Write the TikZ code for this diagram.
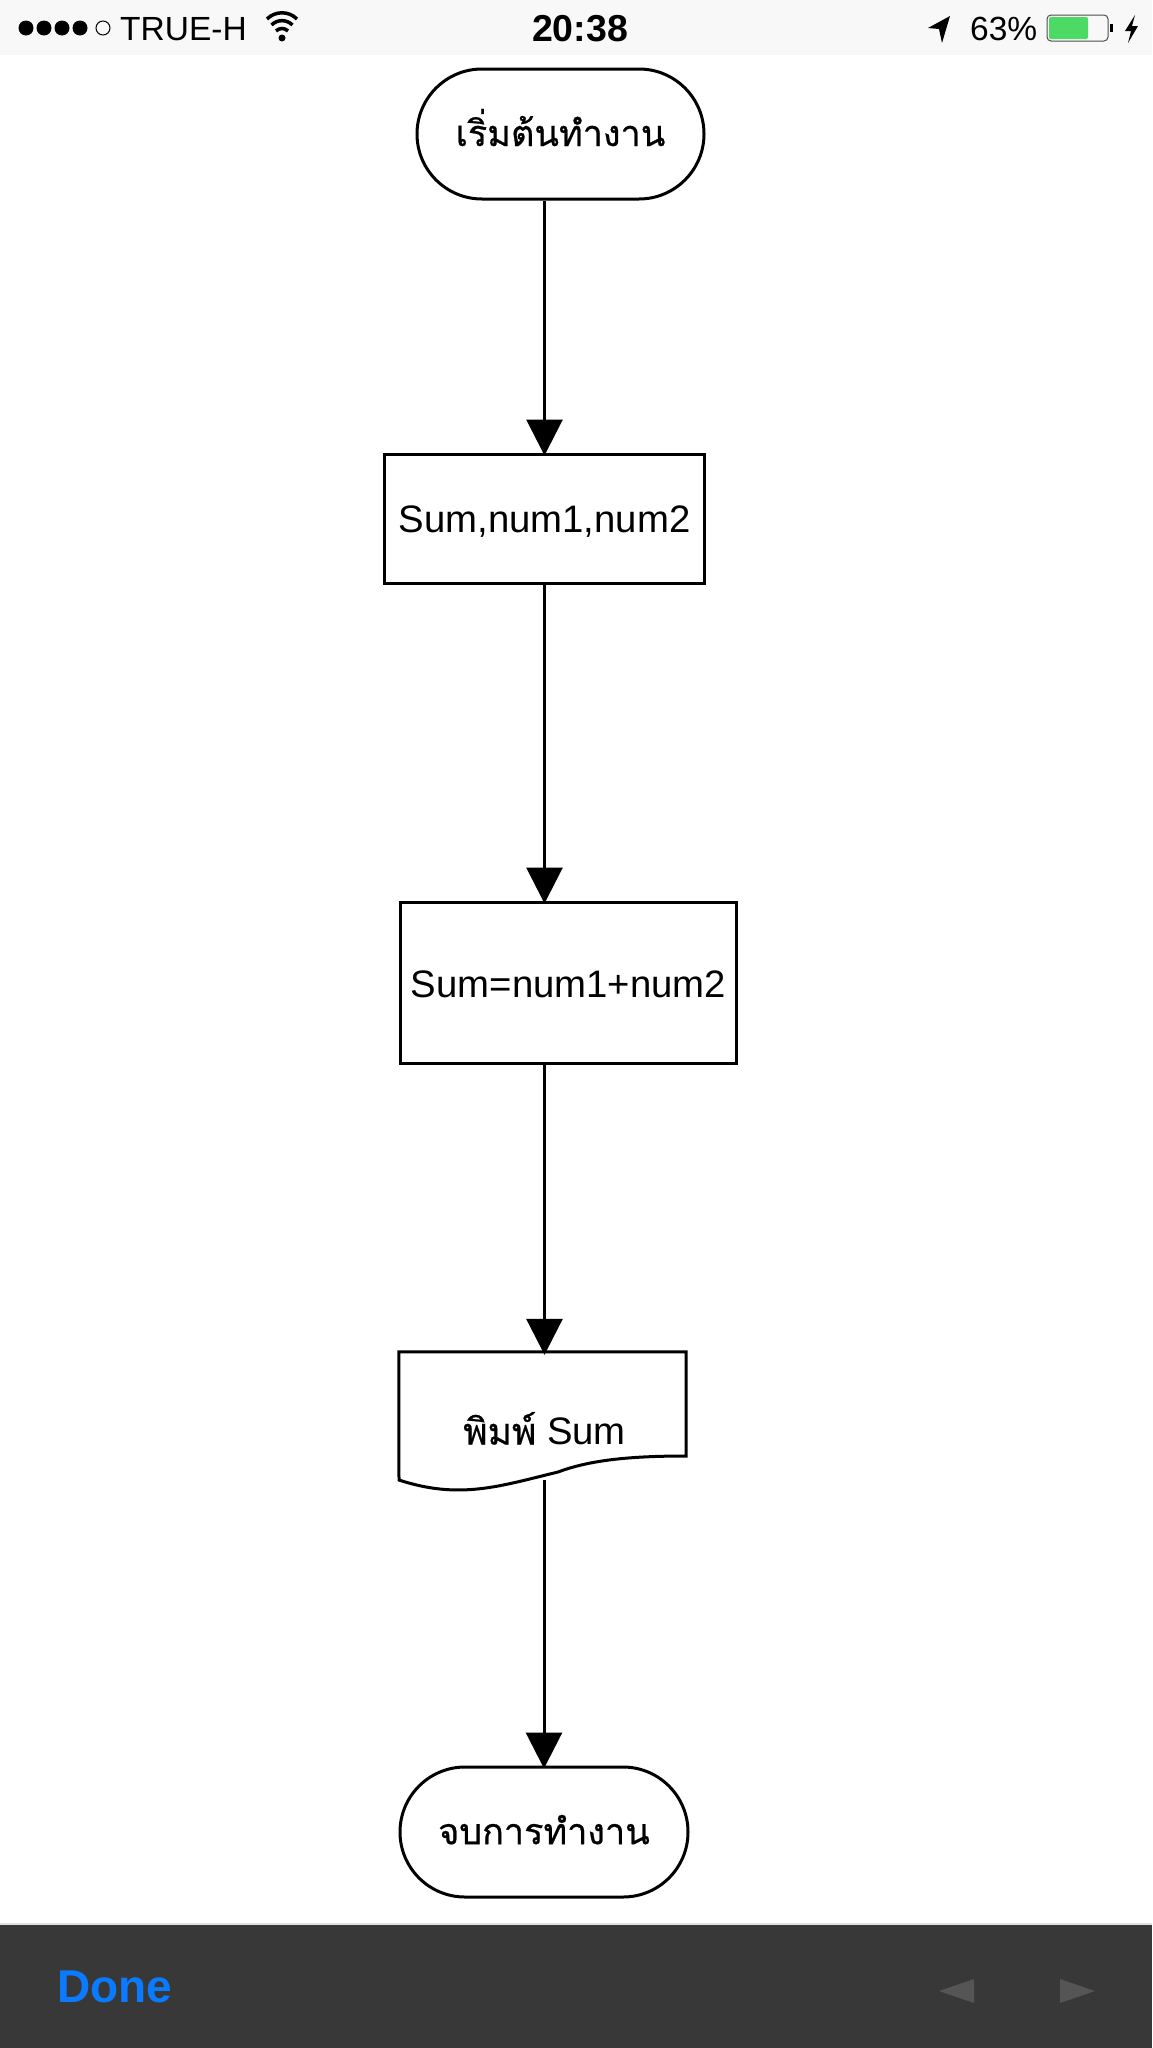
\documentclass[tikz,border=0pt]{standalone}
\usepackage{fontspec}
\setmainfont{Liberation Sans}
\newfontfamily\thaifont[Script=Thai,FakeBold=0.6]{Loma}
\usetikzlibrary{arrows.meta,shapes.misc}
\definecolor{barbg}{HTML}{F8F8F8}
\definecolor{toolbg}{HTML}{383838}
\definecolor{tripale}{HTML}{555555}
\definecolor{doneblue}{HTML}{0A7AFF}
\definecolor{battgreen}{HTML}{4CD964}
\newcommand{\thaisize}{\fontsize{36}{40}\selectfont}
\tikzset{
  x=1pt,y=-1pt,
  flow/.style={draw=black,line width=3pt,inner sep=0pt,fill=white,text=black,font=\fontsize{38.3}{40}\selectfont},
  term/.style={flow,rounded rectangle,rounded rectangle arc length=180,minimum height=130pt},
  boxnode/.style={flow,rectangle},
  conn/.style={draw=black,line width=3pt,-{Triangle[length=36pt,width=36pt]},shorten >=-3pt},
  status/.style={inner sep=0pt,text=black,font=\fontsize{33.5}{36}\selectfont},
  tri/.style={fill=tripale,draw=none}
}
\begin{document}
\begin{tikzpicture}
\useasboundingbox (0,0) rectangle (1152,2048);
\fill[white] (0,0) rectangle (1152,2048);
% status bar
\fill[barbg] (0,0) rectangle (1152,55);
\foreach \cx in {26,44,62,80}{\fill[black] (\cx,28) circle (7.5);}
\draw[black,line width=1pt] (103,28) circle (7);
\node[status,anchor=west] (carrier) at (120,29) {TRUE-H};
\fill[black] (282,38) circle (3.5);
\draw[black,line width=3.5pt] (276,31) arc[start angle=-135,end angle=-45,radius=8.5];
\draw[black,line width=3.5pt] (271.5,25) arc[start angle=-135,end angle=-45,radius=14.8];
\draw[black,line width=3.5pt] (267,19) arc[start angle=-135,end angle=-45,radius=21.2];
\node[status,anchor=center,font=\bfseries\fontsize{37.5}{38}\selectfont] (clock) at (580,29) {20:38};
\fill[black] (950,16) -- (942,43) -- (939,29) -- (928,28) -- cycle;
\node[status,anchor=west] (pct) at (970,29) {63\%};
\draw[black!70,line width=1pt,rounded corners=4pt] (1047,15) rectangle (1108,41);
\fill[battgreen,rounded corners=2pt] (1049,17) rectangle (1088,39);
\fill[black] (1110,24) rectangle (1113,32);
\fill[black] (1135,15) -- (1125,31) -- (1131,31) -- (1128,43) -- (1138,26) -- (1132,26) -- cycle;
% flow nodes
\node[term,minimum width=287pt] (start) at (560.5,134) {\raisebox{13pt}{\thaifont\thaisize เริ่มต้นทำงาน}};
\node[boxnode,minimum width=320pt,minimum height=129pt,text height=28pt,text depth=0pt] (inp) at (544.5,518.5) {Sum,num1,num2};
\node[boxnode,minimum width=336pt,minimum height=161pt,text height=30pt,text depth=0pt] (calc) at (568.5,982.5) {Sum=num1+num2};
\node[inner sep=0pt,minimum width=287pt,minimum height=128pt] (doc) at (542.5,1416) {};
\draw[draw=black,line width=3pt,line join=miter,fill=white]
  (doc.north west) -- (doc.north east) -- (686,1456)
  .. controls (630,1456) and (590,1460) .. (558,1472)
  .. controls (500,1486) and (460,1500) .. (399,1480) -- cycle;
\node[inner sep=0pt,font=\fontsize{38.3}{40}\selectfont] (doclabel) at (544.5,1428.5) {{\thaifont\fontsize{37}{40}\selectfont พิมพ์}\ Sum};
\node[term,minimum width=288pt] (finish) at (544,1832) {\raisebox{5pt}{\thaifont\thaisize จบการทำงาน}};
% connectors
\draw[conn] (start.south -| inp.north) -- (inp.north);
\draw[conn] (inp.south) -- (calc.north -| inp.south);
\draw[conn] (calc.south -| inp.south) -- (doc.north -| inp.south);
\coordinate (docout) at (544,1480);
\draw[conn] (docout) -- (docout |- finish.north);
% toolbar
\fill[toolbg] (0,1925) rectangle (1152,2048);
\fill[black!12] (0,1923) rectangle (1152,1925);
\node[inner sep=0pt,anchor=west,text=doneblue,font=\bfseries\fontsize{46}{48}\selectfont] (done) at (57,1987) {Done};
\fill[tri] (939,1991) -- (974,1979) -- (974,2003) -- cycle;
\fill[tri] (1095,1991) -- (1060,1979) -- (1060,2003) -- cycle;
\end{tikzpicture}
\end{document}
